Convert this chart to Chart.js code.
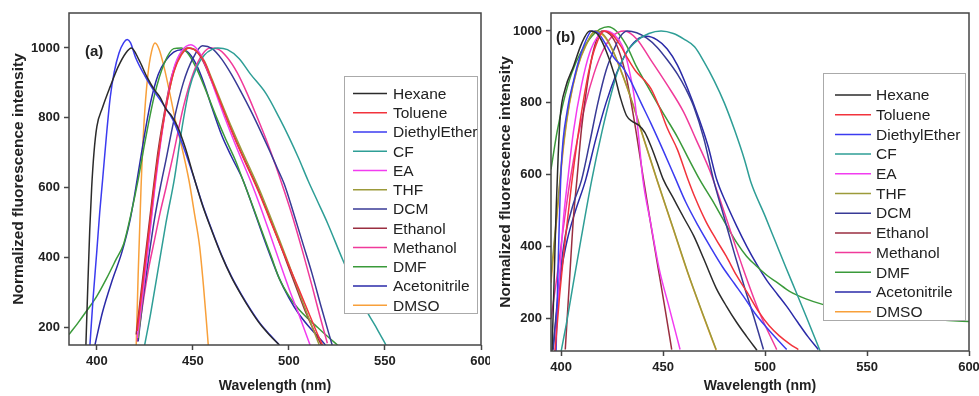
<!DOCTYPE html>
<html>
<head>
<meta charset="utf-8">
<script src="https://cdn.jsdelivr.net/npm/chart.js@4.4.1/dist/chart.umd.min.js"></script>
<style>
html, body { margin: 0; padding: 0; background: #fff; }
#wrap { position: relative; width: 979px; height: 396px; overflow: hidden; }
.panel { position: absolute; top: 0; height: 396px; }
</style>
</head>
<body>
<div id="wrap">
  <div class="panel" style="left:0;width:490px"><canvas id="chartA"></canvas></div>
  <div class="panel" style="left:490px;width:489px"><canvas id="chartB"></canvas></div>
</div>
<script>
// solvents, same order in both panels
const solvents = ['Hexane', 'Toluene', 'DiethylEther', 'CF', 'EA', 'THF', 'DCM',
                  'Ethanol', 'Methanol', 'DMF', 'Acetonitrile', 'DMSO'];

const xTicks = [400, 450, 500, 550, 600];
const yTicks = [200, 400, 600, 800, 1000];

// ---- panel (a): [wavelength nm, normalized intensity]
const hexaneA = [[394.3,150],[395.3,320],[396.3,480],[397.3,600],[398.5,700],[400,775],[403,830],[407,890],[411,945],[415,985],[418,1000],[422,965],[426,918],[430,880],[433,858],[436,825],[439,805],[442,775],[446,715],[450,640],[455,550],[460,475],[465,405],[470,345],[475,295],[480,250],[485,210],[490,178],[495,150]];
const tolueneA = [[421,190],[424,330],[427,470],[430,610],[433,730],[436,830],[440,930],[444,980],[448,1000],[452,990],[456,960],[460,905],[465,835],[470,765],[475,700],[480,640],[485,578],[490,510],[495,443],[500,377],[505,312],[510,246],[515,180],[517.5,150]];
const diethylA = [[396.4,150],[398,280],[400,420],[401.5,530],[403,623],[405,750],[407,860],[409,930],[411.5,985],[414,1015],[415.8,1024],[417.5,1015],[420,975],[425,920],[430,875],[435,835],[440,790],[445,718],[450,638],[455,552],[460,477],[465,407],[470,347],[475,297],[480,252],[485,212],[490,180],[495,150]];
const cfA = [[424.9,150],[428,240],[432,370],[436,500],[440.5,630],[444,760],[448,880],[452,945],[456,980],[460,996],[463,1000],[468,995],[474,970],[480,925],[488,870],[495,800],[500,745],[505,685],[510,620],[515,560],[520,500],[528,394],[534,320],[541,242],[546,195],[550.5,150]];
const eaA = [[421,170],[424,300],[427,440],[430,590],[433,720],[436,830],[440,940],[444,990],[449,1009],[453,990],[457,945],[462,870],[467,795],[472,725],[476,672],[480,620],[485,548],[490,470],[495,390],[500,312],[505,240],[511,150]];
const thfA = [[421.5,170],[424,300],[427,450],[430,600],[433,730],[436,830],[440,930],[444,985],[448,1000],[452,992],[456,962],[460,910],[465,842],[470,775],[475,712],[480,652],[485,590],[490,522],[495,452],[500,380],[505,305],[510,232],[515.8,150]];
const dcmA = [[421.5,160],[424,280],[427,400],[430,510],[433,600],[436,680],[440,790],[445,900],[450,970],[455,1006],[460,998],[465,968],[470,925],[475,875],[480,822],[485,765],[490,705],[494,655],[497.6,610],[502,535],[507,445],[512,355],[517,255],[522.5,150]];
const ethanolA = [[420.5,180],[423,300],[426,440],[429,580],[432,710],[435,810],[439,920],[443,975],[447,1000],[451,995],[455,965],[459,915],[464,848],[469,780],[474,715],[479,655],[484,595],[489,528],[494,458],[499,385],[504,312],[509,240],[514,180],[517,150]];
const methanolA = [[421,160],[424,270],[427,370],[430,450],[433,530],[436,600],[440,700],[445,830],[450,925],[455,982],[459,1000],[463,997],[468,972],[473,930],[478,873],[483,808],[488,740],[493,665],[497,600],[502,515],[507,420],[512,320],[516,235],[520,155]];
const dmfA = [[385.5,180],[390,212],[395,250],[400,290],[405,340],[410,395],[414,440],[418,530],[421.5,623],[425,730],[430,865],[435,955],[440,998],[444,1000],[448,980],[452,940],[457,875],[462,805],[467,740],[472,680],[476,623],[481,550],[486,475],[491,400],[495,340],[500,290],[505,253],[510,225],[515,200],[520,175],[525.3,150]];
const acetoA = [[399,150],[403,245],[408,335],[413,415],[417,500],[420,590],[424,725],[428,845],[432,925],[436,965],[440,988],[444,995],[448,985],[452,950],[456,895],[460,828],[465,750],[470,690],[476,623],[481,548],[486,470],[490,410],[495,340],[500,285],[505,240],[510,205],[515,175],[519,150]];
const dmsoA = [[420.5,150],[421.5,350],[423,600],[424.5,780],[426.5,920],[428.5,990],[430.3,1014],[432.5,995],[435,945],[438,870],[441,790],[444.5,710],[448,620],[451,520],[453.5,432],[455.5,320],[457,220],[458,150]];

// ---- panel (b)
const hexaneB = [[395.5,110],[396.5,300],[397.5,500],[398.5,650],[399.5,760],[402,840],[406,901],[410,965],[414,1000],[418,990],[422,945],[426,880],[429,815],[432,765],[435,748],[438,738],[441,718],[444,680],[447,635],[450,588],[455,535],[460,482],[465,430],[470,365],[476,285],[481,235],[486,190],[491,150],[496,112]];
const tolueneB = [[397,110],[399,250],[402,420],[405,570],[408,700],[411,810],[414,900],[417,960],[421,1000],[425,990],[429,960],[433,920],[437,885],[441,862],[444,840],[448,790],[452,730],[457,670],[462,590],[466,532],[471,470],[476,420],[481,373],[486,320],[491,275],[497,218],[502,180],[507,152],[512,130],[516.3,114]];
const diethylB = [[397.5,110],[398.5,350],[400,620],[403,780],[406,860],[409,925],[412,972],[415,1000],[418,995],[422,962],[426,925],[430,900],[434,862],[439,802],[444,743],[450,668],[456,590],[461,525],[467,460],[473,401],[479,345],[485,297],[489.4,262],[495,215],[500,180],[505,148],[510.6,114]];
const cfB = [[400,110],[403,200],[406,300],[410,430],[415,586],[420,720],[425,835],[428,892],[432,940],[437.6,975],[443,993],[449,1000],[455,993],[460,978],[465.4,956],[470,915],[475,862],[480,800],[485,725],[490,640],[493,580],[500,485],[505,415],[510,345],[515,277],[520,208],[527,110]];
const eaB = [[397,110],[399,300],[401,470],[403.5,600],[406,720],[410,850],[414,940],[418,985],[422,1000],[426,990],[430,958],[433,900],[436,810],[438,705],[440,590],[444,462],[448,340],[453,230],[458.3,114]];
const thfB = [[395,318],[398,500],[401,680],[404,800],[408,900],[412,960],[417,1000],[421,988],[425,950],[430,880],[435,800],[440,710],[447,586],[455,450],[462,330],[469,220],[476,114]];
const dcmB = [[396,114],[399,300],[402,430],[406,520],[410,586],[414,690],[418,800],[422,890],[426,950],[429,985],[432.5,1000],[437,995],[442,980],[447,955],[452,920],[457,880],[461,840],[465,790],[470,700],[474.7,586],[480,480],[485,380],[490,285],[495,195],[499.2,114]];
const ethanolB = [[402,114],[404,300],[406,480],[407.7,586],[410,730],[413,860],[416,950],[420,1000],[424,990],[428,950],[432,870],[436,745],[440.3,590],[444,460],[448,325],[451,225],[454.2,114]];
const methanolB = [[395,200],[398,320],[401,450],[404.4,586],[408,700],[412,800],[416,880],[420,940],[425,985],[431,1000],[437,978],[444,919],[452,850],[460,775],[466,700],[473,610],[480,495],[489.4,336],[497,220],[505.7,114]];
const dmfB = [[395,615],[398,720],[401,800],[405,880],[410,945],[415,985],[419,1005],[423,1012],[427,1000],[432,960],[437,900],[442,850],[447,800],[452,753],[457,705],[462,650],[468,586],[474,530],[480,470],[486,412],[491,373],[496,345],[501,320],[506,300],[512,276],[520,255],[528.6,239],[540,224],[550,215],[560,208],[570,203],[580,199],[590,195],[600,192]];
const acetoB = [[396,114],[398,230],[400,330],[403,420],[407,500],[412,586],[417,700],[422,800],[427,880],[432,940],[437,975],[442,985],[447,975],[452,950],[457,905],[462,840],[467,765],[472,680],[476.3,586],[481,520],[486,458],[491,401],[496,350],[501,305],[506,268],[510.6,234],[516,190],[521,150],[526.1,114]];
const dmsoB = [[395,300],[398,490],[401,670],[404,795],[408,898],[412,958],[417,1000],[421,985],[425,948],[430,878],[435,798],[440,708],[447,584],[455,448],[462,328],[469,218],[476,112]];

const seriesA = [hexaneA, tolueneA, diethylA, cfA, eaA, thfA, dcmA, ethanolA, methanolA, dmfA, acetoA, dmsoA];
const seriesB = [hexaneB, tolueneB, diethylB, cfB, eaB, thfB, dcmB, ethanolB, methanolB, dmfB, acetoB, dmsoB];

const colors = ['#2b2b2b', '#f2333c', '#3b3bf0', '#2e9e96', '#f23cf0', '#9c9a3a',
                '#383a96', '#9a2e40', '#f03a9a', '#3a9a3a', '#2a2aa8', '#f8a03a'];

Chart.defaults.font.family = "'Liberation Sans', Arial, sans-serif";
Chart.defaults.color = '#222';

// frame, panel letter and the boxed legend inside the plot
const panelDeco = {
    id: 'panelDeco',
    afterDatasetsDraw(chart, args, opts) {
        const ctx = chart.ctx;
        const a = chart.chartArea;
        ctx.save();
        ctx.strokeStyle = '#444';
        ctx.lineWidth = 1.5;
        ctx.strokeRect(a.left, a.top, a.right - a.left, a.bottom - a.top);

        ctx.fillStyle = '#222';
        ctx.font = "bold 15px 'Liberation Sans', Arial, sans-serif";
        ctx.textBaseline = 'middle';
        ctx.textAlign = 'left';
        ctx.fillText(opts.label, opts.labelX, opts.labelY);

        const b = opts.box;
        ctx.fillStyle = '#fff';
        ctx.fillRect(b.x, b.y, b.w, b.h);
        ctx.strokeStyle = '#aaa';
        ctx.lineWidth = 1;
        ctx.strokeRect(b.x + 0.5, b.y + 0.5, b.w, b.h);

        ctx.font = "15.5px 'Liberation Sans', Arial, sans-serif";
        chart.data.datasets.forEach((ds, i) => {
            const y = opts.rowY0 + i * opts.rowGap;
            ctx.strokeStyle = ds.borderColor;
            ctx.lineWidth = 1.5;
            ctx.beginPath();
            ctx.moveTo(opts.lineX0, y);
            ctx.lineTo(opts.lineX1, y);
            ctx.stroke();
            ctx.fillStyle = '#222';
            ctx.fillText(ds.label, opts.textX, y + 1);
        });
        ctx.restore();
    }
};

function makeChart(id, series, cfg) {
    const datasets = series.map((pts, i) => ({
        label: solvents[i],
        data: pts,
        borderColor: colors[i],
        borderWidth: 1.5,
        pointRadius: 0,
        cubicInterpolationMode: 'monotone',
        fill: false
    }));

    return new Chart(document.getElementById(id), {
        type: 'line',
        data: { datasets: datasets },
        options: {
            responsive: true,
            maintainAspectRatio: false,
            animation: false,
            devicePixelRatio: 1,
            layout: { padding: cfg.padding },
            plugins: {
                legend: { display: false },
                tooltip: { enabled: false },
                panelDeco: cfg.deco
            },
            scales: {
                x: {
                    type: 'linear',
                    min: cfg.xMin,
                    max: cfg.xMax,
                    afterBuildTicks: s => { s.ticks = xTicks.map(v => ({ value: v })); },
                    afterFit: s => {
                        s.height = cfg.xAxisHeight;
                        s.paddingLeft = 0;
                        s.paddingRight = 0;
                    },
                    grid: { drawOnChartArea: false, drawTicks: true, tickLength: 5, tickColor: '#444', tickWidth: 1.5 },
                    border: { display: false },
                    ticks: { padding: 4, maxRotation: 0, font: { size: 13, weight: 'bold' }, color: '#222', callback: v => String(v) },
                    title: { display: true, text: 'Wavelength (nm)', font: { size: 14, weight: 'bold' }, color: '#222', padding: { top: 0, bottom: 1 } }
                },
                y: {
                    min: cfg.yMin,
                    max: cfg.yMax,
                    afterBuildTicks: s => { s.ticks = yTicks.map(v => ({ value: v })); },
                    afterFit: s => {
                        s.width = cfg.yAxisWidth;
                        s.paddingTop = 0;
                        s.paddingBottom = 0;
                    },
                    grid: { drawOnChartArea: false, drawTicks: true, tickLength: 5, tickColor: '#444', tickWidth: 1.5 },
                    border: { display: false },
                    ticks: { padding: 4, font: { size: 13, weight: 'bold' }, color: '#222', callback: v => String(v) },
                    title: { display: true, text: 'Normalized fluorescence intensity', font: { size: 15.5, weight: 'bold' }, color: '#222', padding: { top: cfg.yTitlePad, bottom: 0 } }
                }
            }
        },
        plugins: [panelDeco]
    });
}

makeChart('chartA', seriesA, {
    xMin: 385.5, xMax: 600, yMin: 150, yMax: 1100,
    padding: { left: 0, right: 9, top: 13, bottom: 0 },
    yAxisWidth: 69, xAxisHeight: 51, yTitlePad: 9,
    deco: {
        label: '(a)', labelX: 85, labelY: 52,
        box: { x: 344, y: 76, w: 133, h: 237 },
        lineX0: 353, lineX1: 387, textX: 393, rowY0: 93.5, rowGap: 19.25
    }
});

makeChart('chartB', seriesB, {
    xMin: 395, xMax: 600, yMin: 110, yMax: 1050,
    padding: { left: 0, right: 10, top: 13, bottom: 0 },
    yAxisWidth: 61, xAxisHeight: 45, yTitlePad: 6,
    deco: {
        label: '(b)', labelX: 66, labelY: 38,
        box: { x: 333, y: 73, w: 142, h: 247 },
        lineX0: 345, lineX1: 381, textX: 386, rowY0: 95, rowGap: 19.7
    }
});
</script>
</body>
</html>
